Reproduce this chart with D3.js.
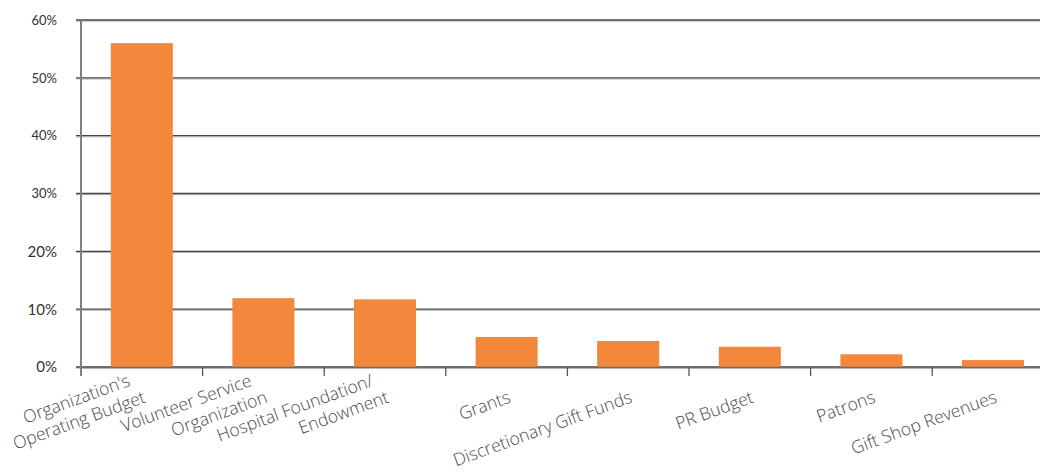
<!DOCTYPE html>
<html>
<head>
<meta charset="utf-8">
<script src="https://cdn.jsdelivr.net/npm/d3@7"></script>
<style>
  html, body { margin: 0; padding: 0; background: #fff; }
  svg { display: block; overflow: hidden; }
</style>
</head>
<body>
<svg id="chart"></svg>
<script>
// funding sources, share of respondents (%)
const categories = [
  "Organization's|Operating Budget",
  "Volunteer Service|Organization",
  "Hospital Foundation/|Endowment",
  "Grants",
  "Discretionary Gift Funds",
  "PR Budget",
  "Patrons",
  "Gift Shop Revenues"
]
const values = [56, 11.9, 11.7, 5.2, 4.5, 3.5, 2.2, 1.2]
const yTicks = [0, 10, 20, 30, 40, 50, 60]

const width = 1040
const height = 475
const plotLeft = 81
const plotTop = 20
const plotBottom = 367
const step = 121.6

const svg = d3.select("#chart")
  .attr("width", width)
  .attr("height", height)

const x = d3.scaleBand()
  .domain(categories)
  .range([plotLeft, plotLeft + categories.length * step])

const y = d3.scaleLinear()
  .domain([0, 60])
  .range([plotBottom, plotTop])

// gridlines with a soft shadow under each
const grid = svg.append("g")
grid.selectAll("line.shadow")
  .data(yTicks)
  .enter().append("line")
  .attr("class", "shadow")
  .attr("x1", plotLeft - 5).attr("x2", width)
  .attr("y1", d => y(d) + 1.2).attr("y2", d => y(d) + 1.2)
  .style("stroke", "#b8b8b8")
  .style("stroke-width", "1px")
grid.selectAll("line.main")
  .data(yTicks)
  .enter().append("line")
  .attr("class", "main")
  .attr("x1", plotLeft - 5).attr("x2", width)
  .attr("y1", d => y(d)).attr("y2", d => y(d))
  .style("stroke", "#444")
  .style("stroke-width", "1.4px")

// bars
const barW = x.bandwidth() * 0.51
svg.selectAll("rect.bar")
  .data(values)
  .enter().append("rect")
  .attr("class", "bar")
  .attr("x", (d, i) => x(categories[i]) + (x.bandwidth() - barW) / 2)
  .attr("y", d => y(d))
  .attr("width", barW)
  .attr("height", d => y(0) - y(d))
  .style("fill", "#f3873b")

// baseline drawn over bars
svg.append("line")
  .attr("x1", plotLeft).attr("x2", width)
  .attr("y1", y(0) + 0.5).attr("y2", y(0) + 0.5)
  .style("stroke", "#6a6a6a")
  .style("stroke-width", "1.5px")

// y axis line
svg.append("line")
  .attr("x1", plotLeft).attr("x2", plotLeft)
  .attr("y1", plotTop).attr("y2", plotBottom + 9)
  .style("stroke", "#808080")
  .style("stroke-width", "2px")

// x ticks between categories
svg.selectAll("line.xtick")
  .data(categories.slice(1))
  .enter().append("line")
  .attr("class", "xtick")
  .attr("x1", d => x(d)).attr("x2", d => x(d))
  .attr("y1", plotBottom).attr("y2", plotBottom + 9)
  .style("stroke", "#555")
  .style("stroke-width", "1.3px")

// y labels
svg.selectAll("text.ylab")
  .data(yTicks)
  .enter().append("text")
  .attr("class", "ylab")
  .attr("x", 57)
  .attr("y", d => y(d))
  .attr("dy", "0.36em")
  .style("text-anchor", "end")
  .style("font-family", "Lato, 'Open Sans', sans-serif")
  .style("font-size", d => d <= 20 ? "15px" : "13px")
  .style("fill", "#333")
  .text(d => d + "%")

// x labels, rotated, multi-line
const xl = svg.selectAll("g.xlab")
  .data(categories)
  .enter().append("g")
  .attr("class", "xlab")
  .attr("transform", d => "translate(" + (x(d) + x.bandwidth() / 2 + 5) + "," + 402 + ") rotate(-20)")

xl.each(function (d) {
  const lines = d.split("|")
  const t = d3.select(this).append("text")
    .style("text-anchor", "end")
    .style("font-family", "'Open Sans', sans-serif")
    .style("font-weight", 300)
    .style("font-size", "17.5px")
    .style("fill", "#4a4a4a")
  lines.forEach((line, i) => {
    const back = lines.length - 1 - i
    t.append("tspan")
      .attr("x", -9 * back)
      .attr("y", -21 * back)
      .text(line)
  })
})
</script>
</body>
</html>
